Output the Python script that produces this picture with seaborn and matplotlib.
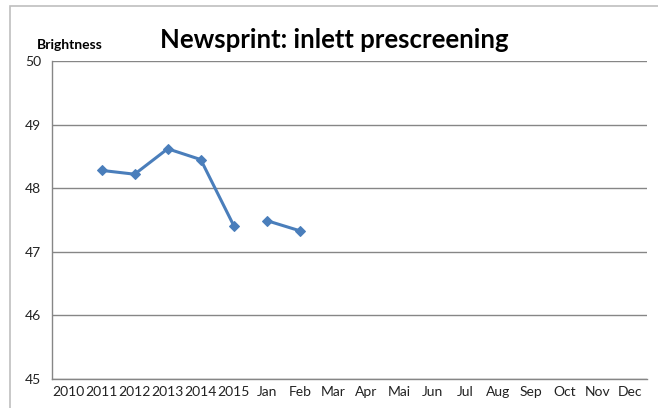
import matplotlib
matplotlib.use("Agg")
import matplotlib.pyplot as plt
import matplotlib.patches as mpatches
import numpy as np
import pandas as pd
import seaborn as sns

categories = ["2010", "2011", "2012", "2013", "2014", "2015", "Jan", "Feb", "Mar",
              "Apr", "Mai", "Jun", "Jul", "Aug", "Sep", "Oct", "Nov", "Dec"]
year_labels = ["2011", "2012", "2013", "2014", "2015"]
year_values = [48.28, 48.22, 48.62, 48.45, 47.41]
month_labels = ["Jan", "Feb"]
month_values = [47.49, 47.33]
y_ticks = [45, 46, 47, 48, 49, 50]

title = "Newsprint: inlett prescreening"
y_title = "Brightness"

df = pd.DataFrame({
    "label": year_labels + month_labels,
    "value": year_values + month_values,
    "segment": ["years"] * len(year_labels) + ["months"] * len(month_labels),
})
df["pos"] = df["label"].map({c: i for i, c in enumerate(categories)})

sns.set_style("white")
plt.rcParams["font.family"] = ["Lato", "DejaVu Sans"]

fig = plt.figure(figsize=(6.58, 4.08), dpi=100)
ax = fig.add_axes([52 / 658, 1 - 379 / 408, (647 - 52) / 658, (379 - 61) / 408])

line_color = "#4A7EBB"
sns.lineplot(data=df, x="pos", y="value", units="segment", estimator=None,
             color=line_color, linewidth=2.2, marker="D", markersize=5.5,
             markeredgecolor=line_color, ax=ax)

ax.set_xlim(-0.5, len(categories) - 0.5)
ax.set_ylim(45, 50)
ax.set_yticks(y_ticks)
ax.set_yticklabels([str(t) for t in y_ticks], fontsize=10, color="#222222")
ax.set_xticks(np.arange(len(categories)))
ax.set_xticklabels(categories, fontsize=10, color="#222222")
ax.set_xticks(np.arange(len(categories) + 1) - 0.5, minor=True)
ax.tick_params(axis="x", which="major", length=0, pad=5)
ax.tick_params(axis="x", which="minor", length=4, color="#868686", width=1, direction="out")
ax.tick_params(axis="y", which="major", length=5, color="#868686", width=1, pad=3, direction="out")
ax.grid(axis="y", color="#868686", linewidth=1)
ax.grid(axis="x", visible=False)
ax.set_xlabel("")
ax.set_ylabel("")
for side in ["top", "right"]:
    ax.spines[side].set_visible(False)
for side in ["left", "bottom"]:
    ax.spines[side].set_color("#868686")
    ax.spines[side].set_linewidth(1)
ax.set_axisbelow(True)

fig.text(334 / 658, 1 - 40 / 408, title, fontsize=18.5, fontweight="bold",
         ha="center", va="center", color="black")
fig.text(37 / 658, 1 - 45 / 408, y_title, fontsize=10, fontweight="bold",
         ha="left", va="center", color="black")

border = mpatches.Rectangle((9.5 / 658, -0.1), 1.2, 1.1 - 6.5 / 408,
                            transform=fig.transFigure, fill=False,
                            edgecolor="#BFBFBF", linewidth=1.2)
fig.patches.append(border)

fig.savefig("out.png", dpi=100)
